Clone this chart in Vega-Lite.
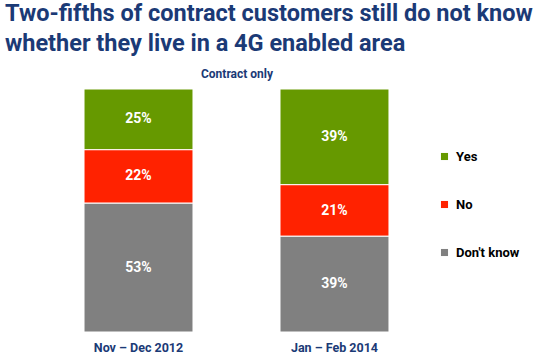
{
  "$schema": "https://vega.github.io/schema/vega-lite/v6.json",
  "width": 401,
  "height": 243,
  "autosize": {"type": "none"},
  "padding": {"left": 36, "top": 89, "right": 111, "bottom": 28},
  "background": "white",
  "title": {
    "text": ["Two-fifths of contract customers still do not know", "whether they live in a 4G enabled area"],
    "anchor": "start",
    "frame": "group",
    "dx": -31,
    "offset": 12,
    "font": "Roboto, sans-serif",
    "fontSize": 23.5,
    "fontWeight": "bold",
    "lineHeight": 30,
    "color": "#1b3a76"
  },
  "data": {
    "values": [
      {"period": "Nov – Dec 2012", "response": "Yes", "value": 0.25},
      {"period": "Nov – Dec 2012", "response": "No", "value": 0.22},
      {"period": "Nov – Dec 2012", "response": "Don't know", "value": 0.53},
      {"period": "Jan – Feb 2014", "response": "Yes", "value": 0.39},
      {"period": "Jan – Feb 2014", "response": "No", "value": 0.21},
      {"period": "Jan – Feb 2014", "response": "Don't know", "value": 0.39}
    ]
  },
  "transform": [
    {"stack": "value", "groupby": ["period"], "sort": [{"field": "response", "order": "ascending"}], "offset": "normalize", "as": ["v0", "v1"]}
  ],
  "layer": [
    {
      "mark": {"type": "bar", "stroke": "white", "strokeWidth": 1},
      "encoding": {
        "x": {
          "field": "period", "type": "nominal", "sort": ["Nov – Dec 2012", "Jan – Feb 2014"],
          "scale": {"paddingInner": 0.444, "paddingOuter": 0.245},
          "axis": {"orient": "bottom", "title": null, "labelAngle": 0, "domain": false, "ticks": false, "labelPadding": 9,
                   "labelFont": "Roboto, sans-serif", "labelFontSize": 12.5, "labelFontWeight": "bold", "labelColor": "#1b3a76"}
        },
        "y": {"field": "v0", "type": "quantitative", "scale": {"domain": [0, 1]}, "axis": null},
        "y2": {"field": "v1"},
        "color": {
          "field": "response", "type": "nominal",
          "scale": {"domain": ["Yes", "No", "Don't know"], "range": ["#669900", "#ff2200", "#808080"]},
          "legend": {
            "title": null, "orient": "none", "legendX": 402, "legendY": 61,
            "symbolType": "square", "symbolSize": 50, "symbolStrokeWidth": 0,
            "rowPadding": 34, "labelOffset": 5,
            "labelFont": "Roboto, sans-serif", "labelFontSize": 13, "labelFontWeight": "bold", "labelColor": "black"
          }
        }
      }
    },
    {
      "transform": [
        {"fold": ["v0", "v1"], "as": ["edge", "pos"]},
        {"aggregate": [{"op": "mean", "field": "pos", "as": "mid"}], "groupby": ["period", "response", "value"]}
      ],
      "mark": {"type": "text", "color": "white", "fontWeight": "bold", "fontSize": 14, "font": "Roboto, sans-serif", "baseline": "middle"},
      "encoding": {
        "x": {
          "field": "period", "type": "nominal", "sort": ["Nov – Dec 2012", "Jan – Feb 2014"],
          "axis": {"orient": "top", "title": "Contract only", "labels": false, "ticks": false, "domain": false, "titlePadding": 9,
                   "titleFont": "Roboto, sans-serif", "titleFontSize": 12, "titleFontWeight": "bold", "titleColor": "#1b3a76"}
        },
        "y": {"field": "mid", "type": "quantitative"},
        "text": {"field": "value", "type": "quantitative", "format": ".0%"}
      }
    }
  ],
  "resolve": {"axis": {"x": "independent"}},
  "config": {"view": {"stroke": null}}
}
